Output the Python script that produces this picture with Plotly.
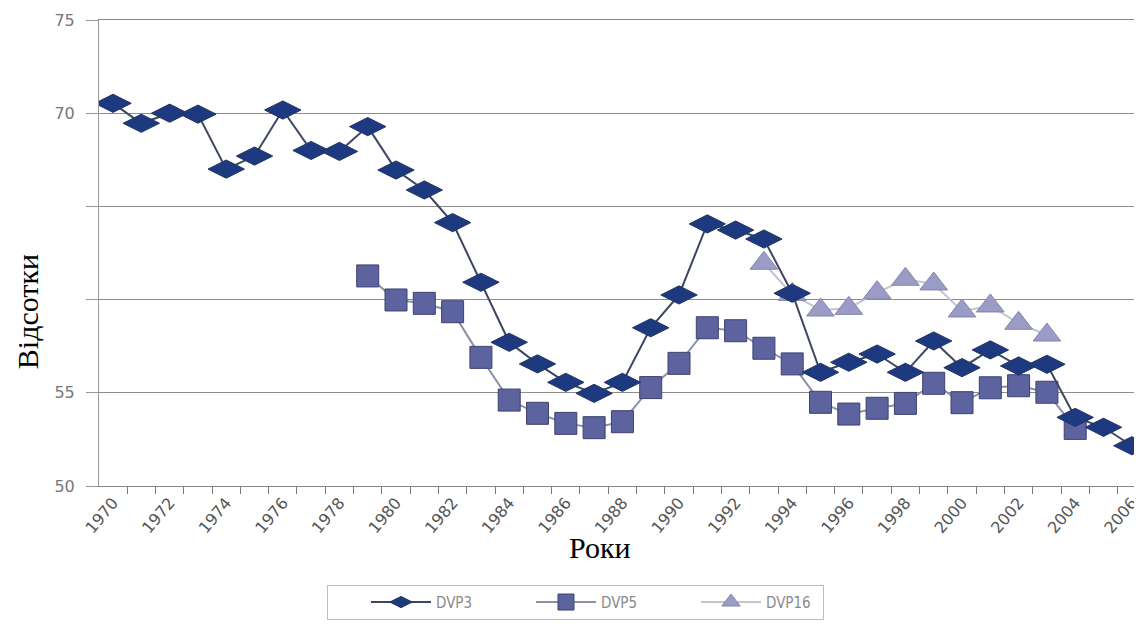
import plotly.graph_objects as go

years = list(range(1970, 2007))

dvp3 = [70.53, 69.46, 70.0, 69.95, 67.0, 67.7, 70.17, 68.0, 67.95, 69.28,
        66.95, 65.88, 64.13, 60.93, 57.71, 56.55, 55.56, 54.97, 55.56, 58.49,
        60.25, 64.06, 63.73, 63.25, 60.34, 56.10, 56.64, 57.08, 56.10, 57.78,
        56.35, 57.30, 56.44, 56.53, 53.68, 53.15, 52.16]

dvp5 = [None] * 9 + [61.27, 59.98, 59.80, 59.35, 56.90, 54.61, 53.90, 53.36, 53.13,
                     53.45, 55.28, 56.58, 58.49, 58.33, 57.39, 56.55, 54.49, 53.86,
                     54.17, 54.43, 55.51, 54.47, 55.27, 55.38, 55.03, 53.09, None, None]

dvp16 = [None] * 23 + [61.95, 60.28, 59.44, 59.53, 60.37, 61.09, 60.84, 59.39,
                       59.66, 58.73, 58.10, None, None, None]

series_names = ["DVP3", "DVP5", "DVP16"]
y_ticks = [50, 55, 60, 65, 70, 75]
y_tick_text = ["50", "55", "", "", "70", "75"]
x_tick_years = list(range(1970, 2007, 2))
x_title = "Роки"
y_title = "Відсотки"

fig = go.Figure()
fig.add_trace(go.Scatter(
    x=years, y=dvp16, name=series_names[2], mode="lines+markers",
    line=dict(color="#c4c4cc", width=2),
    marker=dict(symbol="triangle-up", size=24, color="#9a9cc6",
                line=dict(color="#8385ae", width=1)),
    legendrank=3))
fig.add_trace(go.Scatter(
    x=years, y=dvp5, name=series_names[1], mode="lines+markers",
    line=dict(color="#8c90a8", width=2),
    marker=dict(symbol="square", size=22, color="#5c639e",
                line=dict(color="#3d4270", width=1)),
    legendrank=2))
fig.add_trace(go.Scatter(
    x=years, y=dvp3, name=series_names[0], mode="lines+markers",
    line=dict(color="#3c4660", width=2),
    marker=dict(symbol="diamond-wide", size=26, color="#1d3a80",
                line=dict(color="#22345e", width=1)),
    legendrank=1))

# the page body adds an 8px offset, so the figure is sized 8px smaller
fig.update_layout(
    width=1134, height=627,
    margin=dict(l=91, r=0, t=12, b=149),
    plot_bgcolor="white", paper_bgcolor="white",
    showlegend=True,
    legend=dict(orientation="h", x=0.2186, y=-0.212, xanchor="left", yanchor="top",
                bordercolor="#bdbdbd", borderwidth=1, entrywidth=52, itemwidth=60,
                indentation=38,
                font=dict(family="Liberation Sans Narrow, DejaVu Sans Condensed", size=15, color="#8a8a8a"),
                traceorder="normal"),
    xaxis=dict(range=[1969.505, 2006.36], tickmode="array", tickvals=x_tick_years,
               ticktext=[str(y) for y in x_tick_years], tickangle=-50,
               showgrid=False, showline=True, linecolor="#888", linewidth=1,
               mirror=True, ticks="", zeroline=False, automargin=False,
               minor=dict(tickmode="array", tickvals=[y - 0.5 for y in years] + [2006.5],
                          ticks="outside", ticklen=7, tickcolor="#777", showgrid=False),
               tickfont=dict(family="DejaVu Sans", size=16, color="#555")),
    yaxis=dict(range=[50, 75], tickmode="array", tickvals=y_ticks, ticktext=y_tick_text,
               showgrid=True, gridcolor="#8c8c8c", gridwidth=1,
               showline=True, linecolor="#999", linewidth=1, automargin=False,
               ticks="outside", ticklen=12, tickcolor="#999", zeroline=False,
               ticklabelstandoff=8,
               tickfont=dict(family="DejaVu Sans", size=16, color="#777")),
    annotations=[
        dict(text=x_title, xref="paper", yref="paper", x=0.480, y=-0.133,
             xanchor="center", yanchor="middle", showarrow=False,
             font=dict(family="Liberation Serif", size=30, color="black")),
        dict(text=y_title, xref="paper", yref="paper", x=-0.069, y=0.373,
             xanchor="center", yanchor="middle", showarrow=False, textangle=-90,
             font=dict(family="Liberation Serif", size=30, color="black")),
    ],
)

fig.write_html("out.html")
